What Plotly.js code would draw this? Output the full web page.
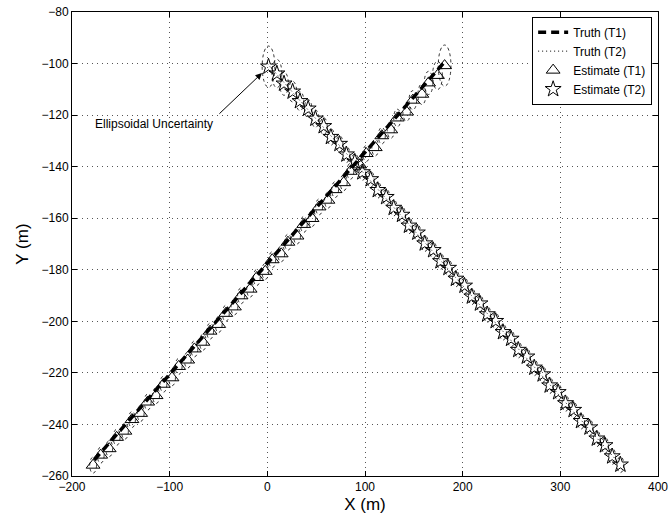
<!DOCTYPE html>
<html>
<head>
<meta charset="utf-8">
<script src="https://cdn.plot.ly/plotly-3.0.1.min.js"></script>
<style>
  html, body { margin: 0; padding: 0; background: #fff; }
  #chart { width: 669px; height: 522px; }
</style>
</head>
<body>
<div id="chart"></div>
<script>
// Ground-truth tracks (straight-line motion), metres
const truthT1X = [180, -180];
const truthT1Y = [-100, -255];
const truthT2X = [0, 360];
const truthT2Y = [-100, -255];

// Tracker estimates, target 1
const estT1X = [181.5, 174.2, 165.1, 158.3, 149.0, 142.6, 133.1, 126.4, 117.2, 110.5,
  101.3, 94.6, 85.0, 78.2, 69.4, 62.1, 53.0, 45.8, 37.3, 30.4,
  21.1, 14.2, 5.0, -2.1, -10.8, -17.6, -26.9, -33.7, -42.5, -49.8,
  -58.6, -65.9, -74.7, -81.5, -90.8, -97.6, -106.4, -113.9, -122.5, -129.7,
  -138.6, -145.8, -154.3, -161.9, -170.6, -178.4];
const estT1Y = [-100.8, -104.6, -107.5, -111.9, -114.2, -118.8, -121.1, -125.7, -128.0, -132.6,
  -134.9, -139.3, -141.8, -146.2, -148.9, -153.0, -155.6, -160.1, -162.4, -166.9,
  -169.3, -173.8, -176.1, -180.6, -183.0, -187.5, -190.1, -194.4, -196.9, -201.2,
  -203.8, -208.1, -210.7, -215.0, -217.5, -221.9, -224.4, -228.8, -231.3, -235.7,
  -238.1, -242.6, -245.0, -249.4, -251.9, -255.8];

// Tracker estimates, target 2
const estT2X = [1.2, 9.8, 17.1, 25.9, 33.4, 41.8, 49.2, 57.7, 65.1, 73.9,
  81.0, 89.6, 97.3, 105.8, 113.1, 121.7, 129.4, 137.9, 145.0, 153.6,
  161.2, 169.8, 177.3, 185.5, 193.1, 201.9, 209.4, 217.7, 225.2, 233.8,
  241.3, 249.6, 257.0, 265.7, 273.4, 281.9, 289.1, 297.8, 305.3, 313.6,
  321.2, 329.9, 337.4, 345.7, 353.1, 361.5];
const estT2Y = [-101.2, -103.9, -107.8, -110.9, -114.6, -117.5, -121.4, -124.3, -128.5, -131.2,
  -135.3, -138.1, -142.2, -144.9, -149.1, -151.8, -156.0, -158.7, -162.9, -165.6,
  -169.8, -172.4, -176.7, -179.3, -183.5, -186.2, -190.4, -193.1, -197.3, -199.9,
  -204.2, -206.8, -211.1, -213.7, -218.0, -220.6, -224.9, -227.5, -231.8, -234.4,
  -238.7, -241.2, -245.5, -248.1, -252.4, -255.6];

// Uncertainty ellipse semi-axes (x, y) for each estimate
const ellT1Rx = [6.5, 5.0, 4.4, 4.1, 3.9, 3.8, 3.7, 3.6, 3.6, 3.5,
  3.5, 3.5, 3.5, 3.5, 3.5, 3.5, 3.5, 3.5, 3.5, 3.5,
  3.5, 3.5, 3.5, 3.5, 3.5, 3.5, 3.5, 3.5, 3.5, 3.5,
  3.5, 3.5, 3.5, 3.5, 3.5, 3.5, 3.5, 3.5, 3.5, 3.5,
  3.5, 3.5, 3.5, 3.5, 3.5, 3.5];
const ellT1Ry = [8.0, 5.5, 4.5, 4.0, 3.7, 3.5, 3.4, 3.3, 3.2, 3.2,
  3.1, 3.1, 3.1, 3.1, 3.1, 3.1, 3.1, 3.1, 3.1, 3.1,
  3.1, 3.1, 3.1, 3.1, 3.1, 3.1, 3.1, 3.1, 3.1, 3.1,
  3.1, 3.1, 3.1, 3.1, 3.1, 3.1, 3.1, 3.1, 3.1, 3.1,
  3.1, 3.1, 3.1, 3.1, 3.1, 3.1];
const ellT2Rx = ellT1Rx.slice();
const ellT2Ry = ellT1Ry.slice();

const xTicks = [-200, -100, 0, 100, 200, 300, 400];
const yTicks = [-260, -240, -220, -200, -180, -160, -140, -120, -100, -80];

const FONT = 'Liberation Sans, Arial, Helvetica, sans-serif';

// Dashed ellipse outline around every estimate
function ellipses(xs, ys, rx, ry) {
  return xs.map((x, i) => ({
    type: 'circle', xref: 'x', yref: 'y',
    x0: x - rx[i], x1: x + rx[i], y0: ys[i] - ry[i], y1: ys[i] + ry[i],
    line: { color: '#000', width: 0.8, dash: '3px,3px' },
    fillcolor: 'rgba(0,0,0,0)', layer: 'above'
  }));
}

const traces = [
  { x: truthT1X, y: truthT1Y, mode: 'lines', name: 'Truth (T1)',
    line: { color: '#000', width: 3.5, dash: '8px,5px' } },
  { x: truthT2X, y: truthT2Y, mode: 'lines', name: 'Truth (T2)',
    line: { color: '#000', width: 1, dash: '1px,3px' } },
  { x: estT1X, y: estT1Y, mode: 'markers', name: 'Estimate (T1)',
    marker: { symbol: 'triangle-up-open', size: 12, color: '#000', line: { width: 1, color: '#000' } } },
  { x: estT2X, y: estT2Y, mode: 'markers', name: 'Estimate (T2)',
    marker: { symbol: 'star-open', size: 12, color: '#000', line: { width: 1, color: '#000' } } }
];

const axisCommon = {
  showline: true, linecolor: '#000', linewidth: 1, mirror: 'allticks',
  ticks: 'inside', ticklen: 5, tickcolor: '#000', tickwidth: 1,
  showgrid: true, gridcolor: '#555', gridwidth: 1, griddash: '1px,4px',
  zeroline: false, tickfont: { family: FONT, size: 12, color: '#000' },
  tickmode: 'array'
};

const layout = {
  width: 669, height: 522,
  margin: { l: 72, r: 11, t: 12, b: 46 },
  paper_bgcolor: '#fff', plot_bgcolor: '#fff',
  showlegend: true,
  xaxis: Object.assign({}, axisCommon, {
    range: [-200, 400], tickvals: xTicks,
    title: { text: 'X (m)', font: { family: FONT, size: 17, color: '#000' }, standoff: 4 }
  }),
  yaxis: Object.assign({}, axisCommon, {
    range: [-260, -80], tickvals: yTicks,
    title: { text: 'Y (m)', font: { family: FONT, size: 17, color: '#000' }, standoff: 8 }
  }),
  legend: {
    x: 0.99, xanchor: 'right', y: 0.99, yanchor: 'top',
    bgcolor: '#fff', bordercolor: '#000', borderwidth: 1,
    font: { family: FONT, size: 12, color: '#000' },
    tracegroupgap: 0, itemwidth: 30
  },
  shapes: ellipses(estT1X, estT1Y, ellT1Rx, ellT1Ry).concat(ellipses(estT2X, estT2Y, ellT2Rx, ellT2Ry)),
  annotations: [
    { x: -5.5, y: -103.7, ax: -50.6, ay: -120, axref: 'x', ayref: 'y', xref: 'x', yref: 'y',
      text: '', showarrow: true, arrowhead: 2, arrowsize: 1.3, arrowwidth: 1, arrowcolor: '#000' },
    { x: -116, y: -123.4, xref: 'x', yref: 'y', text: 'Ellipsoidal Uncertainty', showarrow: false,
      font: { family: FONT, size: 12, color: '#000' } }
  ]
};

Plotly.newPlot('chart', traces, layout, { displayModeBar: false, staticPlot: true });
</script>
</body>
</html>
